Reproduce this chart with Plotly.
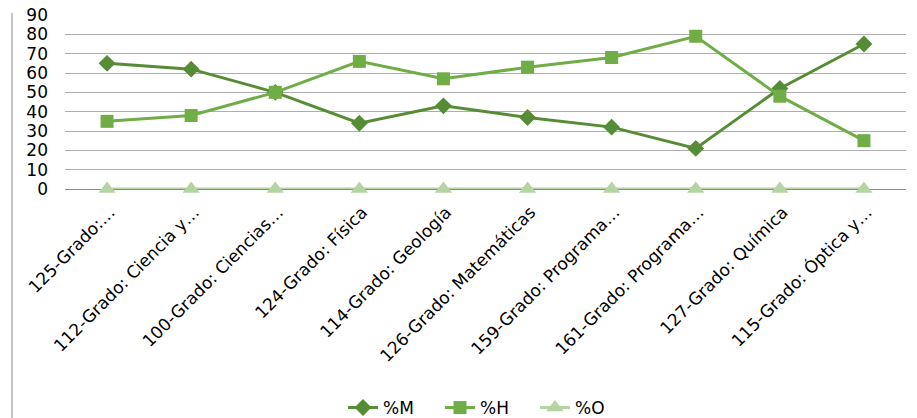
import plotly.graph_objects as go

categories = [
    "125-Grado:…",
    "112-Grado: Ciencia y…",
    "100-Grado: Ciencias…",
    "124-Grado: Física",
    "114-Grado: Geología",
    "126-Grado: Matemáticas",
    "159-Grado: Programa…",
    "161-Grado: Programa…",
    "127-Grado: Química",
    "115-Grado: Óptica y…",
]
pct_m = [65, 62, 50, 34, 43, 37, 32, 21, 52, 75]
pct_h = [35, 38, 50, 66, 57, 63, 68, 79, 48, 25]
pct_o = [0, 0, 0, 0, 0, 0, 0, 0, 0, 0]
y_ticks = [0, 10, 20, 30, 40, 50, 60, 70, 80, 90]

FONT = "DejaVu Sans"
fig = go.Figure()
fig.add_trace(go.Scatter(x=categories, y=pct_m, name="%M", mode="lines+markers",
                         line=dict(color="#578C36", width=3),
                         marker=dict(symbol="diamond", size=13, color="#578C36"),
                         cliponaxis=False, legend="legend"))
fig.add_trace(go.Scatter(x=categories, y=pct_h, name="%H", mode="lines+markers",
                         line=dict(color="#70AD47", width=3),
                         marker=dict(symbol="square", size=13, color="#70AD47"),
                         cliponaxis=False, legend="legend2"))
fig.add_trace(go.Scatter(x=categories, y=pct_o, name="%O", mode="lines+markers",
                         line=dict(color="#B5D4A2", width=3),
                         marker=dict(symbol="triangle-up", size=15, color="#B5D4A2"),
                         cliponaxis=False, legend="legend3"))

# page body has an 8px margin; layout computed in figure coordinates
W, HT = 917, 418
L, R, T, B = 57, 19, 7, 237
PW = W - L - R
PH = HT - T - B
line_x = (4 - L) / PW
leg_y = -(400 - (HT - B)) / PH


def legend_at(symbol_center_page_x):
    return dict(orientation="h", x=(symbol_center_page_x - 8 - 20 - L) / PW,
                xanchor="left", y=leg_y, yanchor="middle",
                font=dict(size=17, family=FONT), bgcolor="rgba(0,0,0,0)")


fig.update_layout(
    width=W, height=HT,
    margin=dict(l=L, r=R, t=T, b=B, autoexpand=False),
    plot_bgcolor="white", paper_bgcolor="white",
    font=dict(family=FONT, size=17, color="#000000"),
    showlegend=True,
    legend=legend_at(363),
    legend2=legend_at(460),
    legend3=legend_at(555),
    xaxis=dict(type="category", range=[-0.5, 9.5], tickangle=-45, showgrid=False,
               showline=False, ticks="", tickfont=dict(size=17), automargin=False,
               ticklabelstandoff=9, ticklabelshift=3),
    yaxis=dict(range=[0, 90], tickvals=y_ticks, showgrid=True, gridcolor="#ADADAD",
               gridwidth=1.3, zeroline=True, zerolinecolor="#8C8C8C", zerolinewidth=1.3,
               showline=False, ticks="", ticklabelstandoff=16, ticklabeloverflow="allow",
               tickfont=dict(size=17), automargin=False),
    shapes=[dict(type="line", xref="paper", yref="paper",
                 x0=line_x, x1=line_x, y0=1 + 2 / PH, y1=-(B + 10) / PH,
                 line=dict(color="#A6A6A6", width=1.3))],
)
fig.write_html("out.html")
